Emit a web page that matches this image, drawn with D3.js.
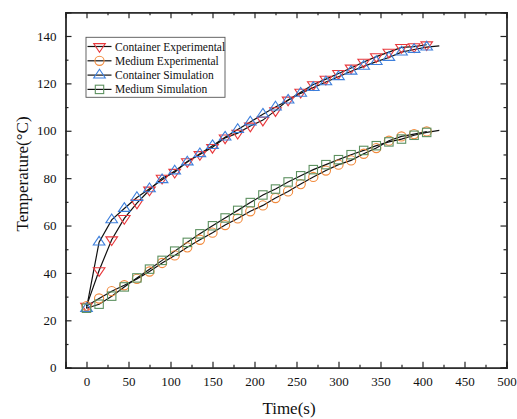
<!DOCTYPE html>
<html><head><meta charset="utf-8">
<script src="https://cdn.jsdelivr.net/npm/d3@7"></script>
<style>body{margin:0;background:#fff}svg{display:block}text{font-family:"Liberation Serif","Times New Roman",serif;fill:#111}</style>
</head><body><svg id="c" width="517" height="419"></svg>
<script>
const time = [0,15,30,45,60,75,90,105,120,135,150,165,180,195,210,225,240,255,270,285,300,315,330,345,360,375,390,405];
const containerExp = [26,41,54,63,69.5,75,80,82.5,87,90,93,97,99,102,104.5,108.5,113,116.3,119.5,121.8,124.2,126.5,129,131.3,133.2,135.2,135.5,136.3];
const mediumExp = [26,29.2,32.3,34.8,37.5,40.6,44.2,47.4,50.8,54,57,60.2,63,66,68.5,71.6,74.4,77.5,80.5,83.2,85.7,87.5,90.3,92.7,95.8,97.6,98.6,99.7];
const containerSim = [25,53,62.4,67.2,71.8,75.5,79.3,83,86.8,90.3,93.7,97.3,100.5,103.7,107,110,112.9,115.8,118.2,120.6,122.8,125.1,127.2,129.2,130.9,133.2,134.3,135.3];
const mediumSim = [25.1,26.8,30.2,34.1,37.9,41.6,45.3,49.2,52.9,56.5,59.9,63.2,66.4,69.7,72.9,75.4,78.4,81,83.6,85.7,87.8,89.9,91.7,93.7,95.3,96.5,98.1,99.3];
const simEndTime = 420;
const containerSimEnd = 135.8;
const mediumSimEnd = 100.2;
const xTicks = [0,50,100,150,200,250,300,350,400,450,500];
const yTicks = [0,20,40,60,80,100,120,140];
const seriesNames = ["Container Experimental","Medium Experimental","Container Simulation","Medium Simulation"];
const seriesColors = ["#e8373b","#f28a3c","#3d7fdc","#5d9160"];
const seriesSymbols = ["tdown","circle","tup","square"];

const svg = d3.select("#c");
const L=65.5, R=506.5, T=12.3, B=367.7;
const x = d3.scaleLinear().domain([-25,500]).range([L,R]);
const y = d3.scaleLinear().domain([0,150]).range([B,T]);

// axes with inward ticks
const gx = svg.append("g").attr("transform",`translate(0,${B})`);
gx.call(d3.axisBottom(x).tickValues(xTicks).tickSize(-6).tickPadding(9).tickFormat(d3.format("d")));
const gxm = svg.append("g").attr("transform",`translate(0,${B})`);
gxm.call(d3.axisBottom(x).tickValues(d3.range(25,500,50)).tickSize(-3).tickFormat(""));
const gxt = svg.append("g").attr("transform",`translate(0,${T})`);
gxt.call(d3.axisTop(x).tickValues(xTicks).tickSize(-6).tickFormat(""));
const gxtm = svg.append("g").attr("transform",`translate(0,${T})`);
gxtm.call(d3.axisTop(x).tickValues(d3.range(25,500,50)).tickSize(-3).tickFormat(""));
const gy = svg.append("g").attr("transform",`translate(${L},0)`);
gy.call(d3.axisLeft(y).tickValues(yTicks).tickSize(-6).tickPadding(9).tickFormat(d3.format("d")));
const gym = svg.append("g").attr("transform",`translate(${L},0)`);
gym.call(d3.axisLeft(y).tickValues(d3.range(10,150,20)).tickSize(-3).tickFormat(""));
const gyr = svg.append("g").attr("transform",`translate(${R},0)`);
gyr.call(d3.axisRight(y).tickValues(yTicks).tickSize(-6).tickFormat(""));
const gyrm = svg.append("g").attr("transform",`translate(${R},0)`);
gyrm.call(d3.axisRight(y).tickValues(d3.range(10,150,20)).tickSize(-3).tickFormat(""));
svg.selectAll(".domain").attr("stroke","#222").attr("stroke-width",1.3);
svg.selectAll(".tick line").attr("stroke","#222").attr("stroke-width",1.2);
svg.selectAll(".tick text").style("font-size","13px").style("font-family","'Liberation Serif',serif").attr("fill","#111");

// axis titles
svg.append("text").attr("x",289).attr("y",414).attr("text-anchor","middle").style("font-size","17px").text("Time(s)");
svg.append("text").attr("transform","translate(28,174) rotate(-90)").attr("text-anchor","middle").style("font-size","17px").text("Temperature(\u00B0C)");

function marker(g, type, cx, cy, color){
  const s=5.2;
  let el;
  if(type==="circle") el=g.append("circle").attr("cx",cx).attr("cy",cy).attr("r",4.6);
  else if(type==="square") el=g.append("rect").attr("x",cx-4.2).attr("y",cy-4.2).attr("width",8.4).attr("height",8.4);
  else if(type==="tup") el=g.append("path").attr("d",`M${cx},${cy-s-0.6}L${cx+s+0.6},${cy+s*0.55}L${cx-s-0.6},${cy+s*0.55}Z`);
  else el=g.append("path").attr("d",`M${cx},${cy+s+0.6}L${cx+s+0.6},${cy-s*0.55}L${cx-s-0.6},${cy-s*0.55}Z`);
  el.attr("fill","none").attr("stroke",color).attr("stroke-width",1.1);
}

const allVals=[containerExp,mediumExp,containerSim,mediumSim];
const ends=[null,null,containerSimEnd,mediumSimEnd];
const line=d3.line().x(d=>x(d[0])).y(d=>y(d[1]));
const plot=svg.append("g");
allVals.forEach((vals,i)=>{
  const pts=time.map((t,j)=>[t,vals[j]]);
  if(ends[i]!==null) pts.push([simEndTime,ends[i]]);
  plot.append("path").attr("d",line(pts)).attr("fill","none").attr("stroke","#111").attr("stroke-width",1.2);
});
allVals.forEach((vals,i)=>{
  const g=plot.append("g");
  time.forEach((t,j)=>marker(g,seriesSymbols[i],x(t),y(vals[j]),seriesColors[i]));
});

// legend
const lg=svg.append("g");
lg.append("rect").attr("x",86).attr("y",37.3).attr("width",139).attr("height",60).attr("fill","#fff").attr("stroke","#555").attr("stroke-width",0.9);
seriesNames.forEach((n,i)=>{
  const yy=46.5+i*14.3;
  lg.append("line").attr("x1",87.5).attr("x2",111.5).attr("y1",yy).attr("y2",yy).attr("stroke","#111").attr("stroke-width",1.2);
  marker(lg,seriesSymbols[i],99.5,yy,seriesColors[i]);
  lg.append("text").attr("x",115).attr("y",yy+4).style("font-size","11.5px").text(n);
});
</script></body></html>
